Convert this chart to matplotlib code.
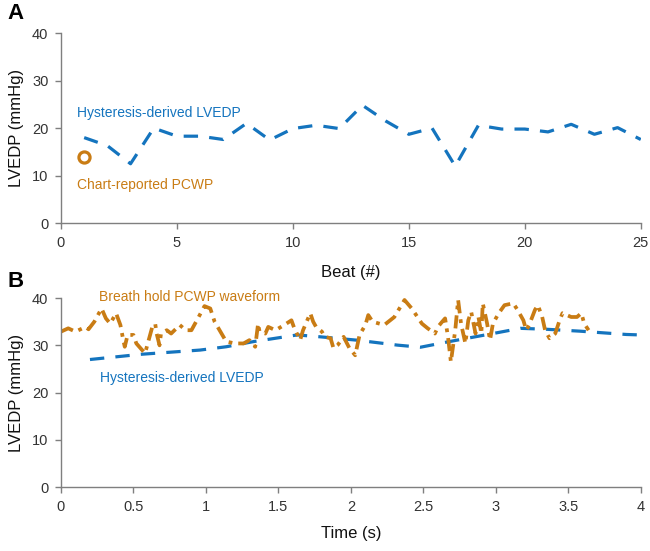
import matplotlib
matplotlib.use("Agg")
import matplotlib.pyplot as plt

plt.rcParams['font.family'] = ['Liberation Sans', 'DejaVu Sans']

BLUE = '#1474BE'
ORANGE = '#C97C14'

# Panel A: hysteresis-derived LVEDP per beat
beats = list(range(1, 26))
lvedp_beats = [18, 16.3, 12.5, 20, 18.3, 18.3, 17.6, 21, 17.5, 19.9, 20.6, 19.9, 24.8,
               21.5, 18.7, 20, 12, 20.6, 19.8, 19.8, 19.2, 20.8, 18.7, 20.1, 17.6]
pcwp_chart_beat = [1]
pcwp_chart_val = [14]

# Panel B: hysteresis-derived LVEDP over time
t_lvedp = [0.2, 0.55, 0.96, 1.14, 1.33, 1.63, 1.79, 2.04, 2.32, 2.48, 2.68, 2.98, 3.17, 3.35, 3.58, 3.9, 4.0]
v_lvedp = [27.0, 28.1, 29.0, 29.7, 30.8, 32.2, 31.8, 31.1, 30.05, 29.6, 30.8, 32.5, 33.6, 33.4, 33.0, 32.3, 32.2]

# Panel B: breath hold PCWP waveform
t_pcwp = [0.0, 0.05, 0.1, 0.17, 0.19, 0.23, 0.28, 0.31, 0.34, 0.38, 0.41, 0.43, 0.44, 0.46, 0.5,
          0.52, 0.58, 0.63, 0.65, 0.66, 0.68, 0.69, 0.73, 0.76, 0.82, 0.86, 0.9, 0.95, 0.99,
          1.03, 1.06, 1.1, 1.14, 1.2, 1.26, 1.3, 1.34, 1.36, 1.37, 1.41, 1.43, 1.48, 1.54,
          1.59, 1.61, 1.65, 1.67, 1.72, 1.74, 1.76, 1.8, 1.82, 1.86, 1.88, 1.91, 1.95, 1.99,
          2.03, 2.06, 2.10, 2.12, 2.15, 2.23, 2.30, 2.37, 2.42, 2.49, 2.53, 2.58, 2.60, 2.63,
          2.65, 2.67, 2.69, 2.72, 2.74, 2.76, 2.79, 2.81, 2.83, 2.86, 2.88, 2.90, 2.91, 2.94,
          2.96, 2.98, 3.02, 3.06, 3.12, 3.15, 3.19, 3.21, 3.23, 3.27, 3.29, 3.32, 3.34, 3.37,
          3.41, 3.44, 3.46, 3.52, 3.56, 3.59, 3.61, 3.64]
v_pcwp = [32.9, 33.6, 32.9, 33.9, 33.4, 35.0, 37.8, 35.7, 34.6, 36.8, 34.3, 31.1, 29.7, 32.2, 32.2,
          30.4, 28.3, 33.9, 34.6, 32.5, 30.0, 32.5, 33.2, 32.5, 34.3, 33.2, 33.2, 36.0, 38.3,
          37.8, 35.0, 32.9, 30.8, 30.4, 30.4, 31.1, 29.7, 34.6, 32.9, 32.5, 33.9, 33.2, 34.3,
          35.3, 33.6, 31.1, 33.2, 36.8, 35.0, 33.9, 32.9, 31.8, 31.5, 29.4, 30.1, 31.8, 29.4,
          27.9, 32.2, 34.3, 36.4, 35.0, 34.3, 36.0, 39.6, 37.8, 34.6, 33.6, 32.5, 33.9, 35.0,
          35.7, 31.8, 26.5, 33.2, 39.6, 34.6, 30.4, 35.3, 37.1, 32.5, 36.0, 32.5, 38.9, 34.6,
          31.1, 34.6, 36.8, 38.5, 38.9, 37.5, 35.3, 33.2, 34.3, 37.5, 38.5, 36.0, 33.2, 31.5,
          32.5, 35.3, 36.8, 36.0, 36.0, 36.8, 34.6, 33.2]

yticks = [0, 10, 20, 30, 40]
xticks_a = [0, 5, 10, 15, 20, 25]
xticks_b = [0, 0.5, 1, 1.5, 2, 2.5, 3, 3.5, 4]
xticklabels_b = ['0', '0.5', '1', '1.5', '2', '2.5', '3', '3.5', '4']

fig = plt.figure(figsize=(6.5, 5.51), dpi=100)
axA = fig.add_axes([0.0938, 0.595, 0.892, 0.345])
axB = fig.add_axes([0.0938, 0.116, 0.892, 0.343])

def style(ax):
    for s in ['top', 'right']:
        ax.spines[s].set_visible(False)
    for s in ['left', 'bottom']:
        ax.spines[s].set_color('#7f7f7f')
        ax.spines[s].set_linewidth(1.0)
    ax.tick_params(direction='out', length=4, width=1.0, color='#7f7f7f',
                   labelsize=10.5, labelcolor='#333333', pad=5)
    ax.set_ylim(0, 40)
    ax.set_yticks(yticks)
    ax.set_ylabel('LVEDP (mmHg)', fontsize=12, color='#111111', labelpad=6)

# Panel A
axA.plot(beats, lvedp_beats, color=BLUE, lw=2.3, dashes=(4.5, 3.5), solid_capstyle='butt')
axA.plot(pcwp_chart_beat, pcwp_chart_val, 'o', ms=8, mfc='white', mec=ORANGE, mew=2.3)
axA.set_xlim(0, 25)
axA.set_xticks(xticks_a)
style(axA)
axA.set_xlabel('Beat (#)', fontsize=12, color='#111111', labelpad=11)
axA.text(0.7, 23.2, 'Hysteresis-derived LVEDP', color=BLUE, fontsize=10, va='center', ha='left')
axA.text(0.7, 8.0, 'Chart-reported PCWP', color=ORANGE, fontsize=10, va='center', ha='left')

# Panel B
axB.plot(t_lvedp, v_lvedp, color=BLUE, lw=2.3, dashes=(4.5, 3.5))
axB.plot(t_pcwp, v_pcwp, color=ORANGE, lw=2.7, dashes=(3.5, 1.6, 1.0, 1.6))
axB.set_xlim(0, 4)
axB.set_xticks(xticks_b)
axB.set_xticklabels(xticklabels_b)
style(axB)
axB.set_xlabel('Time (s)', fontsize=12, color='#111111', labelpad=9)
axB.text(0.26, 40.3, 'Breath hold PCWP waveform', color=ORANGE, fontsize=10, va='center', ha='left')
axB.text(0.27, 23.0, 'Hysteresis-derived LVEDP', color=BLUE, fontsize=10, va='center', ha='left')

fig.text(0.012, 0.975, 'A', fontsize=16, fontweight='bold', va='center', ha='left')
fig.text(0.012, 0.49, 'B', fontsize=16, fontweight='bold', va='center', ha='left')

fig.savefig('out.png', dpi=100, facecolor='white')
